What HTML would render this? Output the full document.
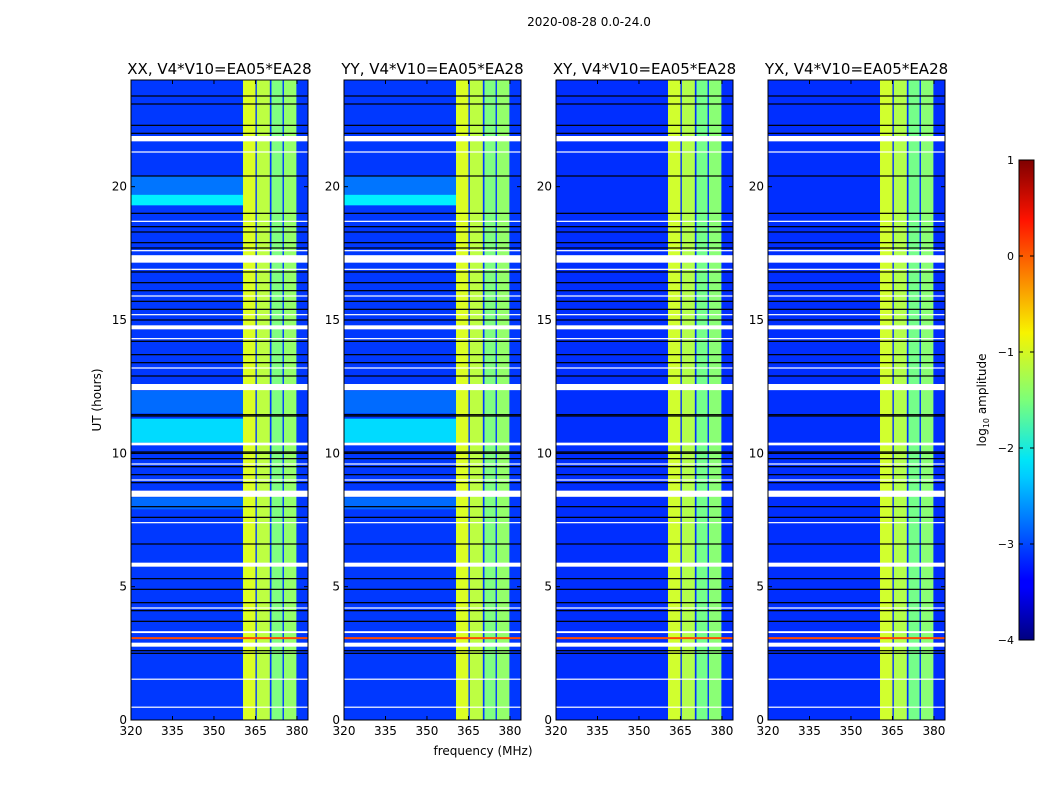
<!DOCTYPE html>
<html><head><meta charset="utf-8"><style>
body{margin:0;background:#fff;width:1050px;height:800px;overflow:hidden;font-family:"Liberation Sans","DejaVu Sans",sans-serif}
svg text{font-family:"DejaVu Sans","Liberation Sans",sans-serif}
</style></head><body>
<svg id="fig" width="1050" height="800" xmlns="http://www.w3.org/2000/svg">
<text x="589" y="26" font-size="12" text-anchor="middle">2020-08-28 0.0-24.0</text>
<text x="483" y="755" font-size="12" text-anchor="middle">frequency (MHz)</text>
<text x="101" y="400" font-size="12" text-anchor="middle" transform="rotate(-90 101 400)">UT (hours)</text>
<text x="986" y="400" font-size="12" text-anchor="middle" transform="rotate(-90 986 400)">log<tspan font-size="8" dy="3">10</tspan><tspan dy="-3"> amplitude</tspan></text>
<defs><linearGradient id="jet" x1="0" y1="1" x2="0" y2="0">
<stop offset="0" stop-color="#00007f"/><stop offset="0.11" stop-color="#0000ff"/><stop offset="0.125" stop-color="#0000ff"/><stop offset="0.34" stop-color="#00ccff"/><stop offset="0.375" stop-color="#00e5f7"/><stop offset="0.5" stop-color="#7cff79"/><stop offset="0.64" stop-color="#f7f400"/><stop offset="0.875" stop-color="#ff1300"/><stop offset="1" stop-color="#7f0000"/></linearGradient></defs>
<g id="panels"></g>
<g id="cbar"></g>
</svg>
<script>
const panelNames=["XX","YY","XY","YX"];
const xTicks=[320,335,350,365,380];
const yTicks=[0,5,10,15,20];
const cbTicks=[1,0,-1,-2,-3,-4];
const bgLevel=[-3.1,-3.1,-3.15,-3.15];
const bandCols=[[360.5,365.0,-1.05],[365.5,370.2,-1.2],[370.8,374.8,-1.5],[375.3,379.8,-1.4]];
const brightRows=[[11.3,10.4,-2.3],[19.7,19.3,-2.2],[20.4,19.7,-2.8],[12.35,11.5,-2.85],[8.35,7.9,-2.85]];
const brightPanels=[true,true,false,false];
const whiteRows=[[21.9,21.7],[17.43,17.15],[14.8,14.65],[12.6,12.37],[10.4,10.3],[8.6,8.37],[5.9,5.75],[3.33,3.26],[2.9,2.75]];
const thinWhite=[21.3,18.7,17.6,16.9,15.9,15.2,14.3,13.2,9.6,9.0,7.4,4.2,1.53,0.48];
const blackRows=[23.4,23.1,22.3,22.0,20.4,19.0,18.5,18.3,17.9,17.7,16.8,16.4,16.1,15.7,15.4,15.0,14.2,13.7,13.4,12.9,11.45,11.4,10.05,10.0,9.8,9.5,9.2,8.9,8.0,7.6,6.6,5.3,4.9,4.4,4.1,3.7,2.6,2.5];
const redRows=[[3.07,0.0]];
const panelX=[131,344,556,768];
const PW=177, PT=80, PB=720, FMIN=320, FMAX=384, TMAX=24;

function jet(v){let t=(v+4)/5;t=Math.max(0,Math.min(1,t));
 const r=Math.min(1,Math.max(0,1.5-Math.abs(4*t-3))),g=Math.min(1,Math.max(0,1.5-Math.abs(4*t-2))),b=Math.min(1,Math.max(0,1.5-Math.abs(4*t-1)));
 return `rgb(${Math.round(r*255)},${Math.round(g*255)},${Math.round(b*255)})`;}
const NS="http://www.w3.org/2000/svg";
function el(tag,attrs,parent){const e=document.createElementNS(NS,tag);for(const k in attrs)e.setAttribute(k,attrs[k]);parent.appendChild(e);return e;}
const root=document.getElementById('panels');
panelNames.forEach((nm,i)=>{
 const x0=panelX[i];
 const xs=f=>x0+(f-FMIN)/(FMAX-FMIN)*PW;
 const ys=h=>PB-h/TMAX*(PB-PT);
 const g=el('g',{},root);
 
 
 const bg=el('rect',{x:x0,y:PT,width:PW,height:PB-PT,fill:jet(bgLevel[i])},g);
 
 
 if(brightPanels[i]) brightRows.forEach(r=>{
  const e=el('rect',{x:x0,y:ys(r[0]),width:xs(360.5)-x0,height:ys(r[1])-ys(r[0]),fill:jet(r[2])},g);
  
  
 });
 bandCols.forEach(c=>{
  const e=el('rect',{x:xs(c[0]),y:PT,width:xs(c[1])-xs(c[0]),height:PB-PT,fill:jet(c[2]+(i>1?-0.05:0))},g);
  
  
 });
 redRows.forEach(r=>{
  const e=el('rect',{x:x0,y:ys(r[0])-1,width:PW,height:2,fill:jet(r[1])},g);
  
  
 });
 blackRows.forEach(h=>{
  const e=el('rect',{x:x0,y:ys(h)-0.6,width:PW,height:1.2,fill:'#000'},g);
  
  
 });
 whiteRows.forEach(r=>{
  const e=el('rect',{x:x0,y:ys(r[0]),width:PW,height:ys(r[1])-ys(r[0]),fill:'#fff'},g);
  
  
 });
 thinWhite.forEach(h=>{
  const e=el('rect',{x:x0,y:ys(h)-0.6,width:PW,height:1.2,fill:'#fff'},g);
  
  
 });
 const fr=el('rect',{x:x0,y:PT,width:PW,height:PB-PT,fill:'none',stroke:'#000','stroke-width':1},g);
 
 
 const t=el('text',{x:x0+PW/2,y:74,'font-size':15,'text-anchor':'middle'},g);
 t.textContent=nm+', V4*V10=EA05*EA28';
 
 
 xTicks.forEach(v=>{
  el('line',{x1:xs(v),x2:xs(v),y1:PB,y2:PB-4,stroke:'#000'},g);
  el('line',{x1:xs(v),x2:xs(v),y1:PT,y2:PT+4,stroke:'#000'},g);
  const tx=el('text',{x:xs(v),y:PB+15,'font-size':12,'text-anchor':'middle'},g);
  tx.textContent=v;
  
  
 });
 yTicks.forEach(v=>{
  el('line',{x1:x0,x2:x0+4,y1:ys(v),y2:ys(v),stroke:'#000'},g);
  el('line',{x1:x0+PW,x2:x0+PW-4,y1:ys(v),y2:ys(v),stroke:'#000'},g);
  const ty=el('text',{x:x0-4,y:ys(v)+4,'font-size':12,'text-anchor':'end'},g);
  ty.textContent=v;
  
  
 });
});
const cb=document.getElementById('cbar');
const CX=1019,CW=15,CT=160,CB=640;
const cy=v=>CB-(v+4)/5*(CB-CT);
const cr=el('rect',{x:CX,y:CT,width:CW,height:CB-CT,fill:'url(#jet)',stroke:'#000','stroke-width':1},cb);


cbTicks.forEach(v=>{
 el('line',{x1:CX,x2:CX+4,y1:cy(v),y2:cy(v),stroke:'#000'},cb);
 el('line',{x1:CX+CW,x2:CX+CW-4,y1:cy(v),y2:cy(v),stroke:'#000'},cb);
 const t=el('text',{x:CX-5,y:cy(v)+4,'font-size':11,'text-anchor':'end'},cb);
 t.textContent=v<0?'\u2212'+(-v):String(v);
 
 
});
</script>
</body></html>
